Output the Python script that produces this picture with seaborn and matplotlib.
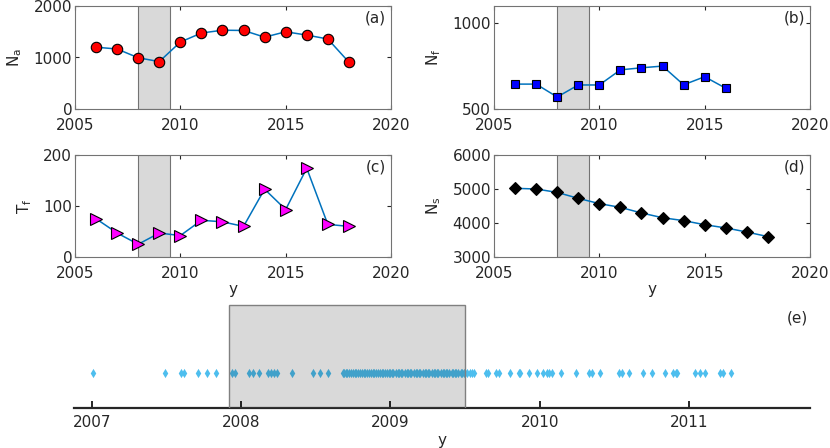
import numpy as np
import pandas as pd
import matplotlib
matplotlib.use('Agg')
import matplotlib.pyplot as plt
import seaborn as sns

# yearly series
years = [2006, 2007, 2008, 2009, 2010, 2011, 2012, 2013, 2014, 2015, 2016, 2017, 2018]
n_a = [1200, 1165, 995, 920, 1300, 1475, 1530, 1525, 1395, 1500, 1435, 1360, 910]
years_f = [2006, 2007, 2008, 2009, 2010, 2011, 2012, 2013, 2014, 2015, 2016]
n_f = [645, 645, 570, 640, 640, 728, 740, 750, 641, 688, 621]
t_f = [75, 47, 25, 47, 42, 72, 69, 60, 133, 93, 174, 64, 60]
n_s = [5020, 5000, 4900, 4725, 4570, 4460, 4295, 4155, 4070, 3950, 3855, 3735, 3600]

# event times for panel (e)
events = [2007.01, 2007.49, 2007.60, 2007.62, 2007.71, 2007.77, 2007.83, 2007.94,
          2007.96, 2008.05, 2008.08, 2008.12, 2008.18, 2008.20, 2008.22, 2008.24,
          2008.34, 2008.48, 2008.53, 2008.58,
          2008.68, 2008.69, 2008.70, 2008.71, 2008.72, 2008.735, 2008.75, 2008.76,
          2008.77, 2008.78, 2008.795, 2008.81, 2008.82, 2008.83, 2008.84, 2008.855,
          2008.87, 2008.88, 2008.89, 2008.90, 2008.915, 2008.93, 2008.94, 2008.95,
          2008.96, 2008.975, 2008.99, 2009.00, 2009.01, 2009.02, 2009.035, 2009.05,
          2009.06, 2009.07, 2009.08, 2009.095, 2009.11, 2009.12, 2009.13, 2009.14,
          2009.155, 2009.17, 2009.18, 2009.19, 2009.20, 2009.215, 2009.23, 2009.24,
          2009.25, 2009.26, 2009.275, 2009.29, 2009.30, 2009.31, 2009.32, 2009.335,
          2009.35, 2009.36, 2009.37, 2009.38, 2009.395, 2009.41, 2009.42, 2009.43,
          2009.44, 2009.455, 2009.47, 2009.48, 2009.49, 2009.50, 2009.515, 2009.53,
          2009.545, 2009.56,
          2009.64, 2009.65, 2009.71, 2009.73, 2009.80, 2009.86, 2009.87, 2009.93,
          2009.98, 2010.02, 2010.05, 2010.06, 2010.08, 2010.14, 2010.24, 2010.33,
          2010.35, 2010.40, 2010.53, 2010.55, 2010.60, 2010.69, 2010.75, 2010.84,
          2010.89, 2010.91, 2010.92, 2011.04, 2011.07, 2011.11, 2011.21, 2011.23,
          2011.28]

span_top = (2008, 2009.5)
span_e = (2007.92, 2009.5)

sns.set_style('ticks')
plt.rcParams.update({
    'font.family': ['DejaVu Sans'],
    'font.size': 11,
    'axes.edgecolor': '0.45',
    'axes.linewidth': 0.8,
    'xtick.direction': 'in',
    'ytick.direction': 'in',
    'xtick.color': '0.15',
    'ytick.color': '0.15',
    'xtick.labelsize': 11,
    'ytick.labelsize': 11,
    'xtick.major.size': 3,
    'ytick.major.size': 3,
    'axes.labelcolor': '0.15',
})

fig = plt.figure(figsize=(8.3, 4.48), dpi=100)
W, H = 830, 448


def box(l, t, r, b):
    return [l / W, 1 - b / H, (r - l) / W, (b - t) / H]


line_c = '#0072BD'
panels = [
    (box(75, 6, 391, 109), years, n_a, 'o', 'red', 7.5, r'N$_\mathregular{a}$', (0, 2000), [0, 1000, 2000], '(a)', False),
    (box(494, 6, 810, 109), years_f, n_f, 's', 'blue', 6.4, r'N$_\mathregular{f}$', (500, 1100), [500, 1000], '(b)', False),
    (box(75, 155, 391, 257), years, t_f, '>', 'magenta', 8, r'T$_\mathregular{f}$', (0, 200), [0, 100, 200], '(c)', True),
    (box(494, 155, 810, 257), years, n_s, 'D', 'black', 6.5, r'N$_\mathregular{s}$', (3000, 6000), [3000, 4000, 5000, 6000], '(d)', True),
]

for rect, xs, ys, mk, mc, ms, ylab, ylim, yt, tag, show_x in panels:
    ax = fig.add_axes(rect)
    ax.axvspan(*span_top, facecolor='0.85', edgecolor='0.45', linewidth=0.8, zorder=0)
    df = pd.DataFrame({'year': xs, 'val': ys})
    sns.lineplot(data=df, x='year', y='val', ax=ax, color=line_c, linewidth=1.1,
                 marker=mk, markersize=ms, markerfacecolor=mc, markeredgecolor='black',
                 markeredgewidth=0.8, zorder=3)
    ax.set_xlim(2005, 2020)
    ax.set_ylim(*ylim)
    ax.set_xticks([2005, 2010, 2015, 2020])
    ax.set_yticks(yt)
    ax.tick_params(top=True, right=True)
    ax.tick_params(axis='x', pad=6.5)
    ax.tick_params(axis='y', pad=2)
    ax.set_ylabel(ylab, labelpad=7)
    ax.set_xlabel('y' if show_x else '', labelpad=1)
    ax.text(0.985, 0.88, tag, transform=ax.transAxes, ha='right', va='center',
            fontsize=11, color='0.15')
    for s in ax.spines.values():
        s.set_visible(True)

# panel (e): event strip
ax = fig.add_axes(box(74, 300, 810, 408))
ev = pd.DataFrame({'t': events, 'level': [0.324] * len(events)})
sns.scatterplot(data=ev, x='t', y='level', ax=ax, marker='d', s=22,
                color='#4DBEEE', linewidth=0, zorder=2)
ax.axvspan(*span_e, ymin=0, ymax=0.956, facecolor=(0, 0, 0, 0.15),
           edgecolor=(0.5, 0.5, 0.5, 1), linewidth=1.0, zorder=3)
ax.set_xlim(2006.88, 2011.81)
ax.set_ylim(0, 1)
ax.set_xticks([2007, 2008, 2009, 2010, 2011])
ax.set_xticklabels(['2007', '2008', '2009', '2010', '2011'])
ax.set_yticks([])
ax.set_ylabel('')
ax.set_xlabel('y', labelpad=2)
for s in ['top', 'left', 'right']:
    ax.spines[s].set_visible(False)
ax.spines['bottom'].set_color('0.15')
ax.spines['bottom'].set_linewidth(1.6)
ax.tick_params(axis='x', direction='in', length=5, width=1.4, color='0.15', pad=5)
ax.patch.set_alpha(0)
ax.text(0.997, 0.833, '(e)', transform=ax.transAxes, ha='right', va='center',
        fontsize=11, color='0.15')

fig.savefig('out.png', dpi=100)
